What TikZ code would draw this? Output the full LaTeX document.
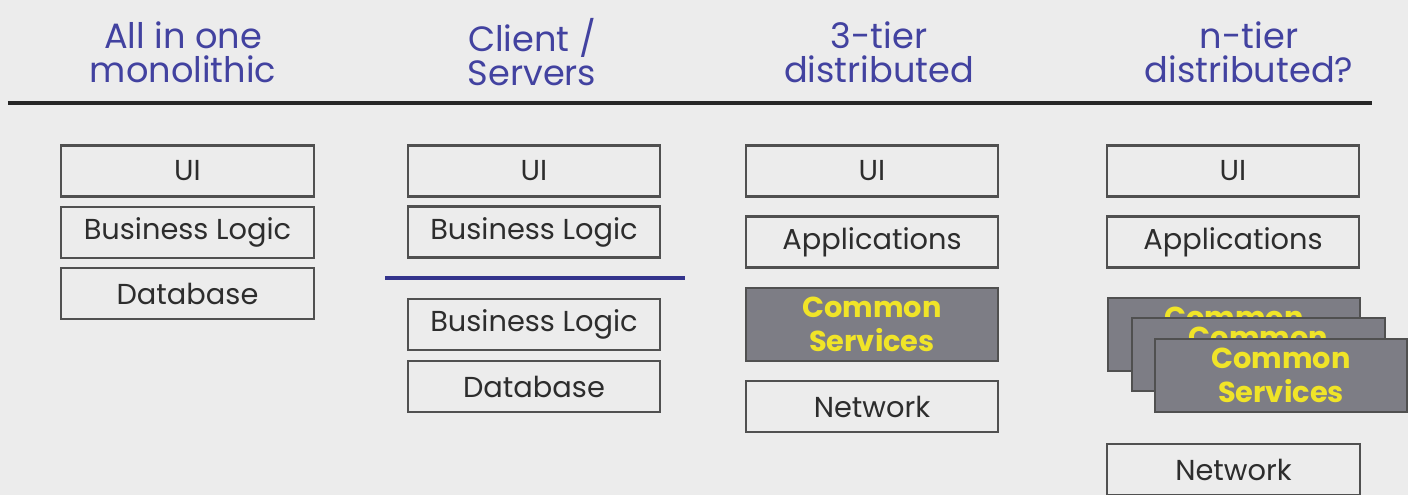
\documentclass[tikz,border=0pt]{standalone}
\usepackage{fontspec}
\setmainfont{Poppins}
\usetikzlibrary{calc}
\definecolor{paper}{RGB}{236,236,236}
\definecolor{headblue}{RGB}{66,66,160}
\definecolor{boxline}{RGB}{80,80,80}
\definecolor{boxtext}{RGB}{45,45,45}
\definecolor{servgray}{RGB}{125,125,133}
\definecolor{servyellow}{RGB}{240,228,40}
\definecolor{splitblue}{RGB}{52,52,140}

\begin{document}
\begin{tikzpicture}[x=0.01cm,y=-0.01cm,
  head/.style={align=center,text=headblue,font=\fontsize{10}{9.7}\selectfont},
  layer/.style={draw=boxline,line width=0.6pt,fill=paper,inner sep=0pt,
    minimum width=2.52cm,minimum height=0.51cm,text=boxtext,
    font=\fontsize{8.2}{9}\selectfont},
  service/.style={layer,fill=servgray,minimum height=0.73cm,align=center,
    text=servyellow,font=\bfseries\fontsize{8.2}{9.6}\selectfont}]

\fill[paper] (0,0) rectangle (1408,495);
\useasboundingbox (0,0) rectangle (1408,495);

% column titles
\node[head] (mono) at (183,52) {All in one\\monolithic};
\node[head] (cs) at (532,52) {Client /\\Servers};
\node[head] (three) at (879,52) {3-tier\\distributed};
\node[head] (ntier) at (1249,52) {n-tier\\distributed?};

\coordinate (RL) at (8,103);
\coordinate (RR) at (1372,103);
\draw[black!85,line width=1.1pt] (RL)--(RR);

% all in one
\node[layer] (ui1) at (187.5,171) {UI};
\node[layer] (bl1) at (187.5,232.5) {Business Logic};
\node[layer] (db1) at (187.5,293.5) {Database};

% client / servers
\node[layer] (ui2) at (534,171) {UI};
\node[layer] (bl2) at (534,232) {Business Logic};
\coordinate (SL) at (385,278);
\coordinate (SR) at (685,278);
\draw[splitblue,line width=1.4pt] (SL)--(SR);
\node[layer] (bl2b) at (534,324.5) {Business Logic};
\node[layer] (db2) at (534,386.5) {Database};

% 3-tier
\node[layer] (ui3) at (872,171) {UI};
\node[layer] (app3) at (872,242) {Applications};
\node[service] (cs3) at (872,324.5) {Common\\Services};
\node[layer] (net3) at (872,406.5) {Network};

% n-tier
\node[layer] (ui4) at (1233,171) {UI};
\node[layer] (app4) at (1233,242) {Applications};
\node[service] (cs4a) at (1234,334.5) {Common\\Services};
\node[service] (cs4b) at (1258.5,354.5) {Common\\Services};
\node[service] (cs4c) at (1281,375.5) {Common\\Services};
\node[layer] (net4) at (1233.5,469.5) {Network};

\end{tikzpicture}
\end{document}
